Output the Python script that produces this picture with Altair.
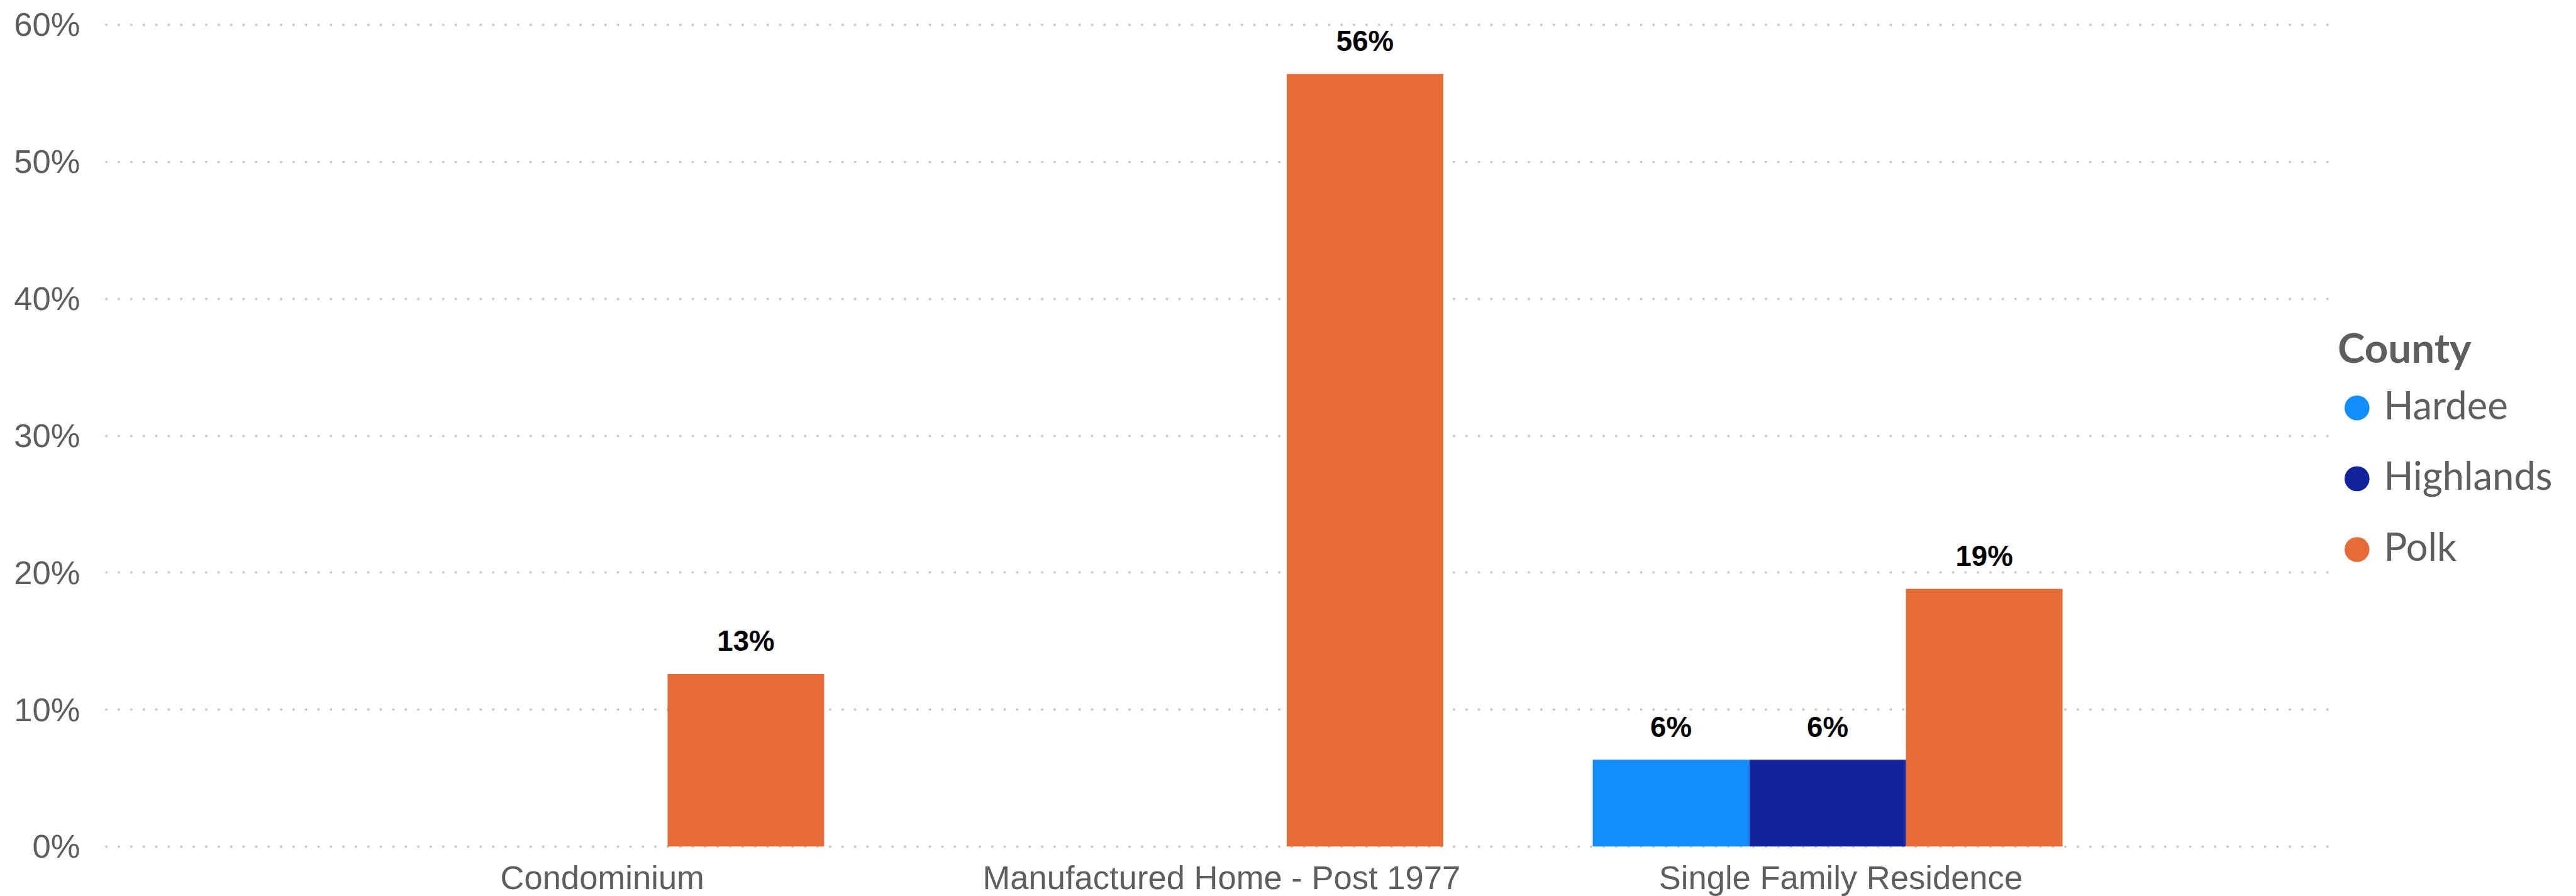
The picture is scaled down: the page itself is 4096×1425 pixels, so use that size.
import altair as alt
import pandas as pd

K = 0.992  # reference -> window scale

# ---- data ----
categories = ["Condominium", "Manufactured Home - Post 1977", "Single Family Residence"]
counties = ["Hardee", "Highlands", "Polk"]
county_colors = ["#118DFF", "#12239E", "#E66C37"]

row_category = [
    "Condominium",
    "Manufactured Home - Post 1977",
    "Single Family Residence",
    "Single Family Residence",
    "Single Family Residence",
]
row_county = ["Polk", "Polk", "Hardee", "Highlands", "Polk"]
row_share = [0.1258, 0.5638, 0.0633, 0.0633, 0.1880]
y_ticks = [0, 0.1, 0.2, 0.3, 0.4, 0.5, 0.6]

df = pd.DataFrame({"Category": row_category, "County": row_county, "Share": row_share})

# ---- layout (reference px * K) ----
PLOT_W = 3562 * K
PLOT_H = 1317.7 * K
PAD_L = 170 * K - 8
PAD_T = 39.3 * K - 8
SVG_W = 4050
SVG_H = 1417
PAD_R = SVG_W - PAD_L - PLOT_W
PAD_B = SVG_H - PAD_T - PLOT_H

TXT = "#605E5C"

x_enc = alt.X(
    "Category:N",
    sort=categories,
    scale=alt.Scale(domain=categories, paddingInner=0.2413, paddingOuter=0.4151, align=0.483),
    axis=alt.Axis(
        title=None,
        labelAngle=0,
        labelFont="Liberation Sans",
        labelFontSize=53 * K,
        labelColor=TXT,
        labelPadding=26 * K,
        labelOffset=21 * K,
        ticks=False,
        tickSize=0,
        domain=False,
        grid=False,
        labelLimit=3000,
        labelOverlap=False,
    ),
)
xoff_enc = alt.XOffset("County:N", scale=alt.Scale(domain=counties, paddingInner=0, paddingOuter=0))
y_enc = alt.Y(
    "Share:Q",
    scale=alt.Scale(domain=[0, 0.6], nice=False, zero=True),
    axis=alt.Axis(
        title=None,
        values=y_ticks,
        format=".0%",
        labelFont="Liberation Sans",
        labelFontSize=53 * K,
        labelColor=TXT,
        labelPadding=42 * K,
        labelOffset=1.8 * K,
        ticks=False,
        tickSize=0,
        domain=False,
        grid=True,
        gridColor="#C8C8C8",
        gridWidth=4 * K,
        gridDash=[0.1, 20 * K - 0.1],
        gridCap="round",
    ),
)

bars = alt.Chart(df).mark_bar().encode(
    x=x_enc,
    xOffset=xoff_enc,
    y=y_enc,
    color=alt.Color(
        "County:N",
        scale=alt.Scale(domain=counties, range=county_colors),
        legend=alt.Legend(
            title="County",
            orient="none",
            legendX=(3747 - 170) * K,
            legendY=(529 - 39.3) * K,
            symbolType="circle",
            symbolSize=(40 * K) ** 2,
            symbolStrokeWidth=0,
            symbolOpacity=1,
            labelFont="Lato",
            labelFontSize=62 * K,
            labelColor=TXT,
            labelOffset=12 * K,
            labelLimit=2000,
            titleFont="Lato",
            titleFontSize=66 * K,
            titleFontWeight="bold",
            titleColor=TXT,
            titlePadding=28 * K,
            titleLimit=2000,
            rowPadding=50 * K,
            padding=0,
        ),
    ),
)

labels = alt.Chart(df).mark_text(
    dy=-37 * K,
    baseline="alphabetic",
    align="center",
    font="Liberation Sans",
    fontWeight="bold",
    fontSize=46 * K,
    color="#000000",
).encode(
    x=alt.X("Category:N", sort=categories),
    xOffset=alt.XOffset("County:N"),
    y=alt.Y("Share:Q"),
    text=alt.Text("Share:Q", format=".0%"),
)

chart = (
    alt.layer(bars, labels)
    .properties(
        width=PLOT_W,
        height=PLOT_H,
        autosize=alt.AutoSizeParams(type="none"),
        padding={"left": PAD_L, "top": PAD_T, "right": PAD_R, "bottom": PAD_B},
        background="white",
    )
    .configure_view(stroke=None)
)

chart.save("out.html", embed_options={"renderer": "svg", "actions": False})
